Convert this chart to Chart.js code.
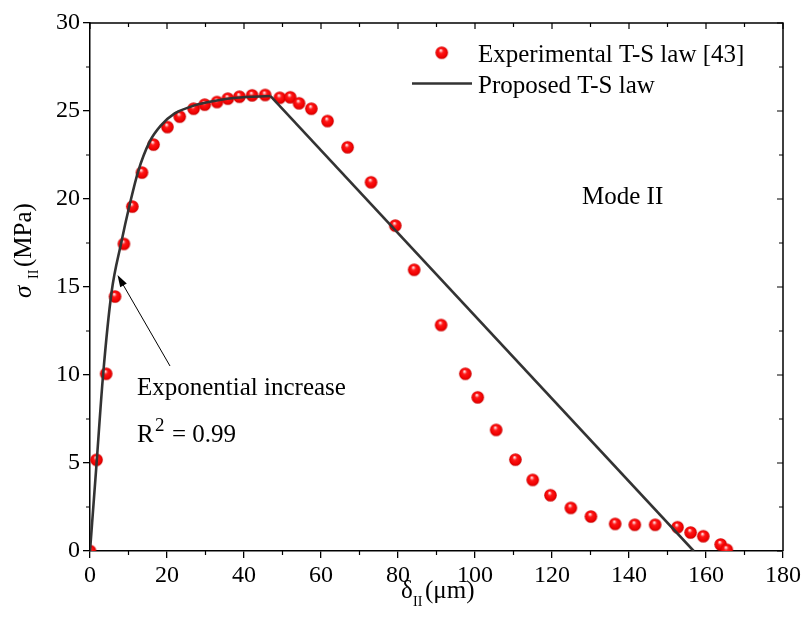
<!DOCTYPE html>
<html>
<head>
<meta charset="utf-8">
<script src="https://cdn.jsdelivr.net/npm/chart.js@4.4.1/dist/chart.umd.min.js"></script>
<style>
body { margin: 0; background: #fff; }
</style>
</head>
<body>
<canvas id="myChart" width="806" height="626"></canvas>
<script>
// experimental T-S law [43]
var expX = [0, 1.7, 4.2, 6.5, 8.8, 11.0, 13.5, 16.5, 20.1, 23.3, 26.9, 29.8, 33.0, 35.8, 38.8, 42.1, 45.5,
            49.3, 52.0, 54.3, 57.5, 61.7, 66.9, 73.0, 79.3, 84.2, 91.2, 97.5, 100.7, 105.5, 110.5, 115.0,
            119.6, 124.9, 130.1, 136.4, 141.5, 146.8, 152.6, 156.0, 159.3, 163.8, 165.4];
var expY = [0, 5.18, 10.07, 14.46, 17.45, 19.57, 21.5, 23.09, 24.09, 24.68, 25.13, 25.36, 25.51, 25.70, 25.81, 25.89, 25.91,
            25.75, 25.78, 25.44, 25.13, 24.43, 22.94, 20.95, 18.49, 15.98, 12.84, 10.07, 8.73, 6.88, 5.19, 4.04,
            3.17, 2.45, 1.96, 1.54, 1.49, 1.49, 1.35, 1.05, 0.84, 0.37, 0.07];

// proposed T-S law: exponential rise, then linear softening
var riseX = [0, 1.65, 3.4, 5.6, 8.1, 10.3, 12.5, 15.5, 18.5, 22.0, 25.5, 28.1, 33.0, 38.0, 46.9];
var riseY = [0, 4.81, 10.0, 14.7, 17.5, 19.67, 21.56, 23.26, 24.2, 24.87, 25.19, 25.38, 25.6, 25.75, 25.85];
var dropX = [46.9, 156.8];
var dropY = [25.85, 0];

var xTicks = [0, 20, 40, 60, 80, 100, 120, 140, 160, 180];
var yTicks = [0, 5, 10, 15, 20, 25, 30];

var serif = '"Liberation Serif", "Times New Roman", serif';

function pts(xs, ys) {
    return xs.map(function(x, i) { return {x: x, y: ys[i]}; });
}

function makeBall(r) {
    var c = document.createElement('canvas');
    var s = Math.ceil(r * 2) + 2;
    c.width = s; c.height = s;
    var g = c.getContext('2d');
    var cx = s / 2, cy = s / 2;
    var grad = g.createRadialGradient(cx - 1, cy - 2.6, 0.2, cx, cy, r);
    grad.addColorStop(0, '#ffffff');
    grad.addColorStop(0.14, '#ffa0a0');
    grad.addColorStop(0.34, '#ff1818');
    grad.addColorStop(0.8, '#f00000');
    grad.addColorStop(1, '#c40000');
    g.fillStyle = grad;
    g.beginPath();
    g.arc(cx, cy, r, 0, Math.PI * 2);
    g.fill();
    return c;
}
var ball = makeBall(6.3);

var framePlugin = {
    id: 'frame',
    afterDraw: function(chart) {
        var ctx = chart.ctx, a = chart.chartArea;
        var xs = chart.scales.x, ys = chart.scales.y;
        ctx.save();
        ctx.strokeStyle = '#000';
        ctx.lineWidth = 1.5;
        ctx.beginPath();
        ctx.moveTo(a.left, a.top);
        ctx.lineTo(a.right, a.top);
        ctx.lineTo(a.right, a.bottom);
        ctx.stroke();

        // minor ticks + inward ticks on top / right
        ctx.lineWidth = 1.2;
        ctx.beginPath();
        for (var v = 0; v <= 180; v += 10) {
            var px = xs.getPixelForValue(v);
            var major = v % 20 === 0;
            ctx.moveTo(px, a.top);
            ctx.lineTo(px, a.top + (major ? 6 : 4));
            if (!major) {
                ctx.moveTo(px, a.bottom);
                ctx.lineTo(px, a.bottom + 4);
            }
        }
        for (var w = 0; w <= 30; w += 2.5) {
            var py = ys.getPixelForValue(w);
            var maj = w % 5 === 0;
            ctx.moveTo(a.right, py);
            ctx.lineTo(a.right - (maj ? 6 : 4), py);
            if (!maj) {
                ctx.moveTo(a.left, py);
                ctx.lineTo(a.left - 4, py);
            }
        }
        ctx.stroke();

        ctx.fillStyle = '#000';
        ctx.textAlign = 'left';
        ctx.textBaseline = 'alphabetic';

        // x title
        ctx.font = '25px ' + serif;
        ctx.fillText('δ', 401, 598);
        ctx.font = '14px ' + serif;
        ctx.fillText('II', 413, 606);
        ctx.font = '25px ' + serif;
        ctx.fillText('(μm)', 425, 598);

        // y title
        ctx.save();
        ctx.translate(31, 298);
        ctx.rotate(-Math.PI / 2);
        ctx.font = 'italic 25px ' + serif;
        ctx.fillText('σ', 0, 0);
        ctx.font = '14px ' + serif;
        ctx.fillText('II', 19, 7);
        ctx.font = '25px ' + serif;
        ctx.fillText('(MPa)', 31, 0);
        ctx.restore();

        // legend
        ctx.drawImage(ball, 441.7 - ball.width / 2, 52.7 - ball.height / 2);
        ctx.font = '25px ' + serif;
        ctx.fillText('Experimental T-S law [43]', 478, 61.7);
        ctx.strokeStyle = '#333';
        ctx.lineWidth = 2.6;
        ctx.beginPath();
        ctx.moveTo(412, 83.5);
        ctx.lineTo(472, 83.5);
        ctx.stroke();
        ctx.fillText('Proposed T-S law', 478, 92.7);

        // annotations
        ctx.fillText('Mode II', 582, 204);
        ctx.fillText('Exponential increase', 137, 395);
        ctx.fillText('R', 137, 441.7);
        ctx.font = '19px ' + serif;
        ctx.fillText('2', 155, 431);
        ctx.font = '25px ' + serif;
        ctx.fillText('= 0.99', 172, 441.7);

        // arrow
        var x0 = 170, y0 = 366, x1 = 117.5, y1 = 275;
        var ang = Math.atan2(y1 - y0, x1 - x0);
        ctx.strokeStyle = '#000';
        ctx.lineWidth = 1;
        ctx.beginPath();
        ctx.moveTo(x0, y0);
        ctx.lineTo(x1 - 8 * Math.cos(ang), y1 - 8 * Math.sin(ang));
        ctx.stroke();
        ctx.beginPath();
        ctx.moveTo(x1, y1);
        ctx.lineTo(x1 - 12 * Math.cos(ang) + 3.8 * Math.sin(ang), y1 - 12 * Math.sin(ang) - 3.8 * Math.cos(ang));
        ctx.lineTo(x1 - 12 * Math.cos(ang) - 3.8 * Math.sin(ang), y1 - 12 * Math.sin(ang) + 3.8 * Math.cos(ang));
        ctx.closePath();
        ctx.fill();
        ctx.restore();
    }
};

var ctx = document.getElementById("myChart").getContext("2d");
var chart = new Chart(ctx, {
    type: 'scatter',
    data: {
        datasets: [{
            label: 'Proposed T-S law',
            data: pts(riseX, riseY),
            showLine: true,
            borderColor: '#333',
            borderWidth: 2.6,
            pointRadius: 0,
            cubicInterpolationMode: 'monotone',
            order: 0
        }, {
            label: 'Proposed T-S law (softening)',
            data: pts(dropX, dropY),
            showLine: true,
            borderColor: '#333',
            borderWidth: 2.6,
            pointRadius: 0,
            tension: 0,
            order: 0
        }, {
            label: 'Experimental T-S law [43]',
            data: pts(expX, expY),
            pointStyle: ball,
            pointRadius: 6.3,
            order: 1
        }]
    },
    options: {
        responsive: false,
        animation: false,
        layout: { padding: { top: 23, right: 23, left: 0, bottom: 0 } },
        plugins: { legend: { display: false }, tooltip: { enabled: false } },
        scales: {
            x: {
                type: 'linear', min: 0, max: 180,
                afterBuildTicks: function(s) { s.ticks = xTicks.map(function(v) { return {value: v}; }); },
                afterFit: function(s) { s.height = 75; },
                ticks: { font: { family: serif, size: 24 }, color: '#000', padding: 3, maxRotation: 0, autoSkip: false },
                grid: { drawOnChartArea: false, tickLength: 7, color: '#000', lineWidth: 1.3 },
                border: { color: '#000', width: 1.5 }
            },
            y: {
                type: 'linear', min: 0, max: 30,
                afterBuildTicks: function(s) { s.ticks = yTicks.map(function(v) { return {value: v}; }); },
                afterFit: function(s) { s.width = 90; },
                ticks: { font: { family: serif, size: 24 }, color: '#000', padding: 3, autoSkip: false },
                grid: { drawOnChartArea: false, tickLength: 7, color: '#000', lineWidth: 1.3 },
                border: { color: '#000', width: 1.5 }
            }
        }
    },
    plugins: [framePlugin]
});
</script>
</body>
</html>
